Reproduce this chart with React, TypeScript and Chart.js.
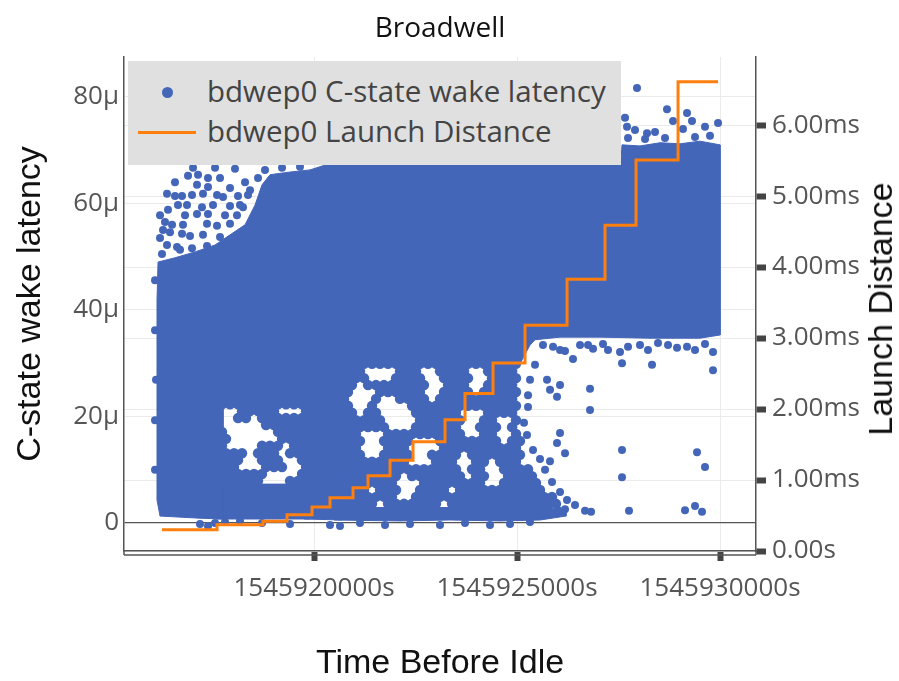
import React, { useEffect, useRef } from 'react';
import { Chart, registerables } from 'chart.js';

Chart.register(...registerables);

const W = 899;
const H = 681;
const BLUE = '#4466b9';
const ORANGE = '#ff7f0e';

// ---- series names / titles ----
const wakeName = 'bdwep0 C-state wake latency';
const launchName = 'bdwep0 Launch Distance';
const chartTitle = 'Broadwell';
const xTitle = 'Time Before Idle';
const yTitle = 'C-state wake latency';
const y2Title = 'Launch Distance';

// ---- axis ticks & ranges ----
const timeTicks = [1545920000, 1545925000, 1545930000];
const latencyTicks = [0, 20, 40, 60, 80];
const distanceTicks = [0, 1, 2, 3, 4, 5, 6];
const timeRange = [1545915320, 1545930886];
const latencyRange = [-5.26, 87.5];
const distanceRange = [0, 6.96];

// ---- Launch Distance (ms), step series ----
const launchTime = [
  1545916256, 1545917611, 1545918744, 1545919335, 1545919951, 1545920394, 1545920961,
  1545921330, 1545921872, 1545922438, 1545923227, 1545923719, 1545924409, 1545925197,
  1545926232, 1545927167, 1545927931, 1545928966, 1545929951,
];
const launchDistance = [
  0.30, 0.37, 0.42, 0.51, 0.62, 0.75, 0.89, 1.06, 1.28, 1.54, 1.85, 2.22, 2.65, 3.18,
  3.83, 4.59, 5.51, 6.61, 6.61,
];

// ---- C-state wake latency (µs): outlines of the saturated point cloud [time, µs] ----
const denseOutline: [number, number][] = [
  [1545916158, 49.0], [1545916576, 49.8], [1545917069, 50.9], [1545917562, 52.2],
  [1545917931, 54.1], [1545918301, 56.0], [1545918547, 59.7], [1545918719, 63.5],
  [1545918916, 65.4], [1545919409, 65.9], [1545919901, 66.3], [1545920271, 67.2],
  [1545920394, 68.2], [1545927561, 68.2], [1545927586, 71.0], [1545928029, 70.8],
  [1545928522, 71.4], [1545929015, 71.2], [1545929507, 71.7], [1545930000, 71.0],
  [1545930000, 35.3], [1545929507, 34.7], [1545928276, 34.7], [1545927044, 34.9],
  [1545926059, 34.9], [1545925443, 34.4], [1545925320, 33.4], [1545925074, 29.9],
  [1545920690, 29.9], [1545920690, 0.56], [1545919754, 0.75], [1545919754, 22.3],
  [1545917759, 22.3], [1545917759, 0.75], [1545917192, 0.9], [1545916207, 1.3],
  [1545916133, 4.3], [1545916133, 41.9], [1545916158, 49.0],
];
const denseBandLeft: [number, number][] = [
  [1545917590, 7.3], [1545919900, 7.3], [1545919900, 0.75], [1545917590, 0.75], [1545917590, 7.3],
];
const denseBandMiddle: [number, number][] = [
  [1545920493, 2.9], [1545925763, 2.9], [1545926207, 1.9], [1545926207, 1.3], [1545925566, 0.56],
  [1545924581, 0.38], [1545923350, 0.56], [1545922118, 0.38], [1545920493, 0.56], [1545920493, 2.9],
];

// ---- individual wake latency points [time, µs] ----
const upperLeftPoints: [number, number][] = [
  [1545916897, 65.2], [1545917143, 65.4], [1545917389, 64.8], [1545917685, 64.8],
  [1545917118, 63.5], [1545917389, 63.1], [1545917931, 62.9],
  [1545916379, 61.8], [1545916576, 61.4], [1545916749, 61.4], [1545916995, 61.6],
  [1545917266, 61.8], [1545917611, 61.6], [1545917759, 61.2], [1545918128, 61.4], [1545918374, 61.6],
  [1545916650, 59.7], [1545916872, 59.7], [1545917241, 59.3], [1545917931, 59.5], [1545918251, 59.3],
  [1545917118, 58.0], [1545917389, 58.0], [1545918103, 57.8],
  [1545916330, 56.5], [1545916503, 56.0], [1545916773, 56.0], [1545917365, 56.2],
  [1545917611, 55.8], [1545917931, 56.2],
  [1545916453, 54.6], [1545916749, 54.3], [1545916946, 53.9], [1545917266, 54.1], [1545917685, 53.7],
  [1545916379, 52.2], [1545916626, 51.8], [1545916995, 51.6], [1545917365, 52.0],
  [1545916256, 50.5], [1545916700, 51.3],
  [1545917020, 66.7], [1545918054, 66.5], [1545918621, 64.8], [1545918793, 66.3],
  [1545919212, 66.7], [1545919655, 66.9],
  [1545916207, 57.8], [1545916207, 53.5],
  [1545916281, 55.0], [1545916823, 57.8], [1545917512, 59.7], [1545917808, 57.8],
  [1545918177, 59.7], [1545918424, 62.5], [1545918301, 64.0], [1545917562, 66.7],
  [1545916576, 64.0], [1545916404, 58.8],
];
const upperRightPoints: [number, number][] = [
  [1545927955, 81.7], [1545928694, 77.7], [1545929187, 77.0], [1545928842, 75.5],
  [1545929310, 75.5], [1545929088, 74.0], [1545929630, 74.4], [1545929951, 75.1],
  [1545927709, 74.4], [1545927906, 73.8], [1545928202, 73.2], [1545928399, 73.4],
  [1545927660, 76.1], [1545928645, 72.3], [1545929384, 72.5], [1545929753, 72.7],
  [1545928153, 72.1], [1545927734, 72.3],
];
const lowerRightPoints: [number, number][] = [
  [1545925640, 33.4], [1545925887, 33.1], [1545926059, 32.5], [1545926182, 32.3],
  [1545926379, 30.8], [1545926749, 33.4], [1545926872, 32.7], [1545927241, 32.5],
  [1545927537, 32.1], [1545927734, 33.1], [1545928029, 33.4], [1545928226, 32.5],
  [1545928719, 33.4], [1545928941, 32.9], [1545929187, 33.1], [1545929384, 32.5],
  [1545929827, 32.1], [1545929827, 28.7], [1545927586, 30.0], [1545928325, 29.7],
  [1545927118, 33.6], [1545928473, 33.8], [1545929630, 33.6], [1545926552, 33.4],
  [1545925739, 26.9], [1545925813, 25.0], [1545926059, 25.9], [1545925985, 23.7],
  [1545926798, 25.2], [1545926798, 21.2], [1545925271, 24.0], [1545925271, 21.8],
  [1545926059, 16.9], [1545925985, 15.0], [1545926182, 13.1], [1545925813, 11.6],
  [1545925566, 12.0], [1545927586, 13.7], [1545927586, 8.6], [1545929433, 13.3],
  [1545929630, 10.5],
  [1545925616, 2.4], [1545925813, 2.3], [1545926010, 2.4], [1545926182, 2.6],
  [1545926675, 2.3], [1545926823, 2.1], [1545927758, 2.3], [1545929138, 2.4],
  [1545929384, 3.2], [1545929556, 2.1],
  [1545925172, 18.8], [1545925246, 16.5], [1545925394, 13.7], [1545925690, 10.0],
  [1545925862, 7.7], [1545926059, 5.8], [1545926231, 4.3], [1545926428, 3.4],
  [1545925320, 26.9], [1545925443, 29.7],
];
// rows of points [µs, times] in the mixed lower-middle part of the cloud
const lowerMiddleRows: [number, number[]][] = [
  [29.9, [1545920640, 1545920837, 1545921034, 1545921232, 1545921429, 1545921626, 1545921823, 1545922020, 1545922217, 1545922414, 1545922611, 1545922808, 1545923005, 1545923202, 1545923399, 1545923596, 1545923793, 1545923990, 1545924187, 1545924384, 1545924581, 1545924778, 1545924975]],
  [28.5, [1545920739, 1545920936, 1545921133, 1545922118, 1545922315, 1545922512, 1545923103, 1545923300, 1545923497, 1545923695, 1545924286, 1545924483, 1545924680, 1545924877]],
  [27.2, [1545920640, 1545920837, 1545921034, 1545921232, 1545922020, 1545922217, 1545922414, 1545922611, 1545923202, 1545923399, 1545923596, 1545923793, 1545924384, 1545924581, 1545924778, 1545924975]],
  [25.9, [1545920739, 1545920936, 1545921330, 1545921527, 1545921724, 1545921921, 1545922118, 1545922315, 1545922512, 1545922709, 1545923300, 1545923497, 1545923695, 1545924286, 1545924483, 1545924680, 1545924877]],
  [24.6, [1545920640, 1545920837, 1545921626, 1545921823, 1545922020, 1545922217, 1545922414, 1545922611, 1545923202, 1545923399, 1545923596, 1545923793, 1545924187, 1545924384, 1545924581, 1545924778, 1545924975]],
  [23.3, [1545920739, 1545921527, 1545922118, 1545922315, 1545922512, 1545922709, 1545923103, 1545923300, 1545923497, 1545923695, 1545923892, 1545924089, 1545924286, 1545924483, 1545924680, 1545924877]],
  [22.0, [1545920640, 1545920837, 1545921429, 1545922414, 1545922611, 1545922808, 1545923005, 1545923202, 1545923399, 1545923596, 1545923793, 1545923990, 1545924187, 1545924384, 1545924581, 1545924778, 1545924975]],
  [20.7, [1545920739, 1545920936, 1545921330, 1545921527, 1545922512, 1545922709, 1545922906, 1545923103, 1545923300, 1545923497, 1545924286, 1545924483, 1545924680, 1545924877]],
  [19.3, [1545920640, 1545920837, 1545921034, 1545921232, 1545921429, 1545921626, 1545922611, 1545922808, 1545923005, 1545923202, 1545923399, 1545923596, 1545924187, 1545924384, 1545924975]],
  [18.0, [1545920739, 1545920936, 1545921133, 1545921330, 1545921527, 1545921724, 1545922512, 1545922709, 1545922906, 1545923103, 1545923300, 1545923497, 1545924089, 1545924286, 1545924483, 1545924877]],
  [16.7, [1545920640, 1545920837, 1545921034, 1545921823, 1545922020, 1545922217, 1545922414, 1545922611, 1545922808, 1545923005, 1545923202, 1545923399, 1545923596, 1545924187, 1545924384, 1545924975]],
  [15.4, [1545920739, 1545920936, 1545921133, 1545921724, 1545921921, 1545922118, 1545922315, 1545923103, 1545923300, 1545923497, 1545923695, 1545923892, 1545924089, 1545924286, 1545924483, 1545924877, 1545925074]],
  [14.1, [1545920640, 1545920837, 1545921034, 1545921823, 1545922020, 1545922217, 1545923202, 1545923399, 1545923596, 1545923793, 1545923990, 1545924187, 1545924384, 1545924581, 1545924778, 1545924975]],
  [12.8, [1545920739, 1545920936, 1545921133, 1545921724, 1545921921, 1545922118, 1545922315, 1545922906, 1545923103, 1545923300, 1545923497, 1545923892, 1545924089, 1545924286, 1545924483, 1545924680, 1545924877, 1545925074]],
  [11.5, [1545920640, 1545920837, 1545921034, 1545921232, 1545921429, 1545921626, 1545921823, 1545922020, 1545922217, 1545923005, 1545923202, 1545923399, 1545923990, 1545924187, 1545924581, 1545924778, 1545924975]],
  [10.1, [1545920739, 1545920936, 1545921133, 1545921330, 1545921527, 1545921724, 1545921921, 1545922118, 1545922315, 1545922512, 1545922709, 1545922906, 1545923103, 1545923300, 1545923497, 1545923892, 1545924089, 1545924680, 1545924877, 1545925074, 1545925271]],
  [8.8, [1545920640, 1545920837, 1545921034, 1545921232, 1545921429, 1545921626, 1545921823, 1545922020, 1545922414, 1545922611, 1545922808, 1545923005, 1545923202, 1545923399, 1545923596, 1545923990, 1545924187, 1545924778, 1545924975, 1545925172, 1545925369]],
  [7.5, [1545920739, 1545920936, 1545921133, 1545921330, 1545921527, 1545921724, 1545921921, 1545922709, 1545922906, 1545923103, 1545923300, 1545923497, 1545923695, 1545923892, 1545924089, 1545924680, 1545924877, 1545925074, 1545925271, 1545925468]],
  [6.2, [1545920640, 1545920837, 1545921034, 1545921232, 1545921626, 1545921823, 1545922020, 1545922611, 1545922808, 1545923005, 1545923202, 1545923596, 1545923793, 1545923990, 1545924187, 1545924384, 1545924581, 1545924778, 1545924975, 1545925172, 1545925369, 1545925566]],
  [4.9, [1545920739, 1545920936, 1545921133, 1545921330, 1545921527, 1545921724, 1545921921, 1545922512, 1545922709, 1545922906, 1545923103, 1545923300, 1545923497, 1545923695, 1545923892, 1545924089, 1545924286, 1545924483, 1545924680, 1545924877, 1545925074, 1545925271, 1545925468, 1545925665, 1545925862]],
  [3.6, [1545920640, 1545920837, 1545921034, 1545921232, 1545921429, 1545921823, 1545922020, 1545922217, 1545922414, 1545922611, 1545922808, 1545923005, 1545923399, 1545923596, 1545923793, 1545923990, 1545924187, 1545924384, 1545924581, 1545924778, 1545924975, 1545925172, 1545925369, 1545925566, 1545925763, 1545925960]],
];
// rows of points [µs, times] in the mixed lower-left patch
const lowerLeftRows: [number, number[]][] = [
  [22.3, [1545917734, 1545917931, 1545918128, 1545918325, 1545918522, 1545918719, 1545918916, 1545919113, 1545919310, 1545919507, 1545919704]],
  [21.0, [1545918227, 1545918424, 1545918621, 1545918818, 1545919015, 1545919803]],
  [19.7, [1545918128, 1545918325, 1545918719, 1545918916, 1545919113, 1545919310, 1545919507, 1545919704]],
  [18.4, [1545918818, 1545919015, 1545919212, 1545919409, 1545919606, 1545919803]],
  [17.1, [1545917734, 1545919113, 1545919310, 1545919507, 1545919704]],
  [15.8, [1545917833, 1545919212, 1545919409, 1545919606, 1545919803]],
  [14.5, [1545917734, 1545918719, 1545918916, 1545919113, 1545919507, 1545919704]],
  [13.1, [1545917833, 1545918030, 1545918227, 1545918621, 1545918818, 1545919015, 1545919409, 1545919606, 1545919803]],
  [11.8, [1545917734, 1545917931, 1545918128, 1545918719, 1545918916, 1545919113, 1545919704]],
  [10.5, [1545917833, 1545918030, 1545918818, 1545919015, 1545919212, 1545919803]],
  [9.2, [1545917734, 1545917931, 1545918128, 1545918325, 1545918522, 1545918719, 1545919704]],
  [7.9, [1545917833, 1545918030, 1545918227, 1545918424, 1545918621, 1545919409, 1545919606, 1545919803]],
];
const edgePoints: [number, number][] = [
  [1545917192, -0.19], [1545917389, -0.56], [1545917562, 0], [1545917808, 0.19],
  [1545918177, 0.38], [1545918719, 0], [1545919409, -0.19], [1545920394, -0.38],
  [1545920640, -0.56], [1545921133, 0], [1545921749, -0.38], [1545922364, -0.19],
  [1545923103, -0.38], [1545923719, 0], [1545924335, -0.38], [1545924827, -0.19],
  [1545925320, 0.19],
  [1545916084, 45.6], [1545916084, 36.2], [1545916084, 19.3], [1545916084, 10.0], [1545916108, 26.9],
];

const FONT_TICK = { family: '"Open Sans", sans-serif', size: 26 };
const FONT_AXIS = { family: '"Liberation Sans", Arial, sans-serif', size: 34, lineHeight: 1.2 };

const framePlugin = {
  id: 'frameLines',
  afterDraw(chart: any) {
    const { ctx, chartArea: a } = chart;
    ctx.save();
    ctx.strokeStyle = '#555';
    ctx.lineWidth = 1.5;
    ctx.beginPath();
    ctx.moveTo(a.left, a.bottom + 4);
    ctx.lineTo(a.right, a.bottom + 4);
    ctx.moveTo(a.left, a.bottom);
    ctx.lineTo(a.left, a.bottom + 4);
    ctx.moveTo(a.right, a.bottom);
    ctx.lineTo(a.right, a.bottom + 4);
    ctx.stroke();
    ctx.restore();
  },
};

export default function App() {
  const ref = useRef<HTMLCanvasElement>(null);

  useEffect(() => {
    if (!ref.current) return;
    const toXY = (pts: [number, number][]) => pts.map(([x, y]) => ({ x, y }));
    const fromRows = (rows: [number, number[]][]) =>
      rows.flatMap(([lat, times]) => times.map((t) => ({ x: t, y: lat })));
    const wakeSparse = [
      ...toXY(upperLeftPoints), ...toXY(upperRightPoints), ...toXY(lowerRightPoints), ...toXY(edgePoints),
    ];
    const wakeMixed = [...fromRows(lowerMiddleRows), ...fromRows(lowerLeftRows)];
    const launch = launchTime.map((t, i) => ({ x: t, y: launchDistance[i] }));
    const area = (pts: [number, number][], label: string) => ({
      type: 'line', label, data: toXY(pts), yAxisID: 'y',
      backgroundColor: BLUE, borderColor: BLUE, borderWidth: 1, pointRadius: 0,
      fill: 'shape', tension: 0, order: 3,
    });

    const chart = new Chart(ref.current, {
      type: 'scatter',
      data: {
        datasets: [
          {
            type: 'line', label: launchName, data: launch, yAxisID: 'y2',
            borderColor: ORANGE, backgroundColor: ORANGE, borderWidth: 3, pointRadius: 0,
            stepped: true, fill: false, order: 0,
          } as any,
          {
            type: 'scatter', label: wakeName, data: wakeSparse, yAxisID: 'y',
            backgroundColor: BLUE, borderWidth: 0, pointRadius: 4, order: 1,
          } as any,
          {
            type: 'scatter', label: wakeName + ' (mixed)', data: wakeMixed, yAxisID: 'y',
            backgroundColor: BLUE, borderWidth: 0, pointRadius: 5.2, order: 2,
          } as any,
          area(denseOutline, wakeName + ' (dense)') as any,
          area(denseBandLeft, wakeName + ' (dense)') as any,
          area(denseBandMiddle, wakeName + ' (dense)') as any,
        ],
      },
      options: {
        responsive: false,
        animation: false,
        events: [],
        layout: { padding: 0, autoPadding: false } as any,
        plugins: {
          legend: { display: false },
          tooltip: { enabled: false },
          title: {
            display: true, text: chartTitle, fullSize: false, color: '#111',
            font: { family: '"Open Sans", sans-serif', size: 28, weight: 'normal', lineHeight: 1.2 },
            padding: { top: 12, bottom: 11.4 },
          },
        },
        scales: {
          x: {
            type: 'linear', position: 'bottom', min: timeRange[0], max: timeRange[1],
            afterBuildTicks: (s: any) => { s.ticks = timeTicks.map((v) => ({ value: v })); },
            afterFit: (s: any) => { s.height = 130; },
            ticks: {
              autoSkip: false, maxRotation: 0, padding: 12, color: '#555', font: FONT_TICK,
              callback: (v: any) => `${v}s`,
            },
            grid: { color: '#ebebeb', lineWidth: 1, tickLength: 10, tickWidth: 6, tickColor: '#444' },
            border: { color: '#555', width: 1.5 },
            title: {
              display: true, text: xTitle, color: '#111',
              font: { ...FONT_AXIS, lineHeight: 1 }, padding: { top: 0, bottom: 0 },
            },
          },
          y: {
            type: 'linear', position: 'left', min: latencyRange[0], max: latencyRange[1],
            afterBuildTicks: (s: any) => { s.ticks = latencyTicks.map((v) => ({ value: v })); },
            afterFit: (s: any) => { s.width = 124; },
            ticks: {
              padding: 5, color: '#555', font: FONT_TICK,
              callback: (v: any) => (v === 0 ? '0' : `${v}µ`),
            },
            grid: {
              color: (c: any) => (c.tick && c.tick.value === 0 ? '#555' : '#ebebeb'),
              lineWidth: (c: any) => (c.tick && c.tick.value === 0 ? 1.3 : 1),
              drawTicks: false,
            },
            border: { color: '#555', width: 1.5 },
            title: {
              display: true, text: yTitle, color: '#111',
              font: FONT_AXIS, padding: { top: 10, bottom: 0 },
            },
          },
          y2: {
            type: 'linear', position: 'right', min: distanceRange[0], max: distanceRange[1],
            afterBuildTicks: (s: any) => { s.ticks = distanceTicks.map((v) => ({ value: v })); },
            afterFit: (s: any) => { s.width = 143; },
            ticks: {
              padding: 6, color: '#555', font: FONT_TICK,
              callback: (v: any) => (v === 0 ? '0.00s' : `${Number(v).toFixed(2)}ms`),
            },
            grid: { color: '#ebebeb', lineWidth: 1, tickLength: 10, tickWidth: 6, tickColor: '#444' },
            border: { color: '#555', width: 1.5 },
            title: { display: false },
          },
        },
      } as any,
      plugins: [framePlugin],
    });
    return () => chart.destroy();
  }, []);

  return (
    <div style={{ position: 'absolute', left: 0, top: 0, width: W, height: H, background: '#fff' }}>
      <canvas ref={ref} width={W} height={H} style={{ display: 'block', width: W, height: H }} />
      <div
        style={{
          position: 'absolute', left: 880, top: 309, transform: 'translate(-50%, -50%) rotate(-90deg)',
          fontFamily: '"Liberation Sans", Arial, sans-serif', fontSize: 34, lineHeight: '34px',
          color: '#111', whiteSpace: 'nowrap',
        }}
      >
        {y2Title}
      </div>
      <div
        style={{
          position: 'absolute', left: 128, top: 61, width: 493, height: 104, background: '#e0e0e0',
          fontFamily: '"Open Sans", sans-serif', fontSize: 29.5, color: '#444',
        }}
      >
        <span style={{ position: 'absolute', left: 34, top: 26, width: 11, height: 11, borderRadius: '50%', background: BLUE }} />
        <span style={{ position: 'absolute', left: 79, top: 10, lineHeight: '40px', whiteSpace: 'nowrap' }}>{wakeName}</span>
        <span style={{ position: 'absolute', left: 10, top: 69.5, width: 58, height: 3, background: ORANGE }} />
        <span style={{ position: 'absolute', left: 79, top: 50, lineHeight: '40px', whiteSpace: 'nowrap' }}>{launchName}</span>
      </div>
    </div>
  );
}
